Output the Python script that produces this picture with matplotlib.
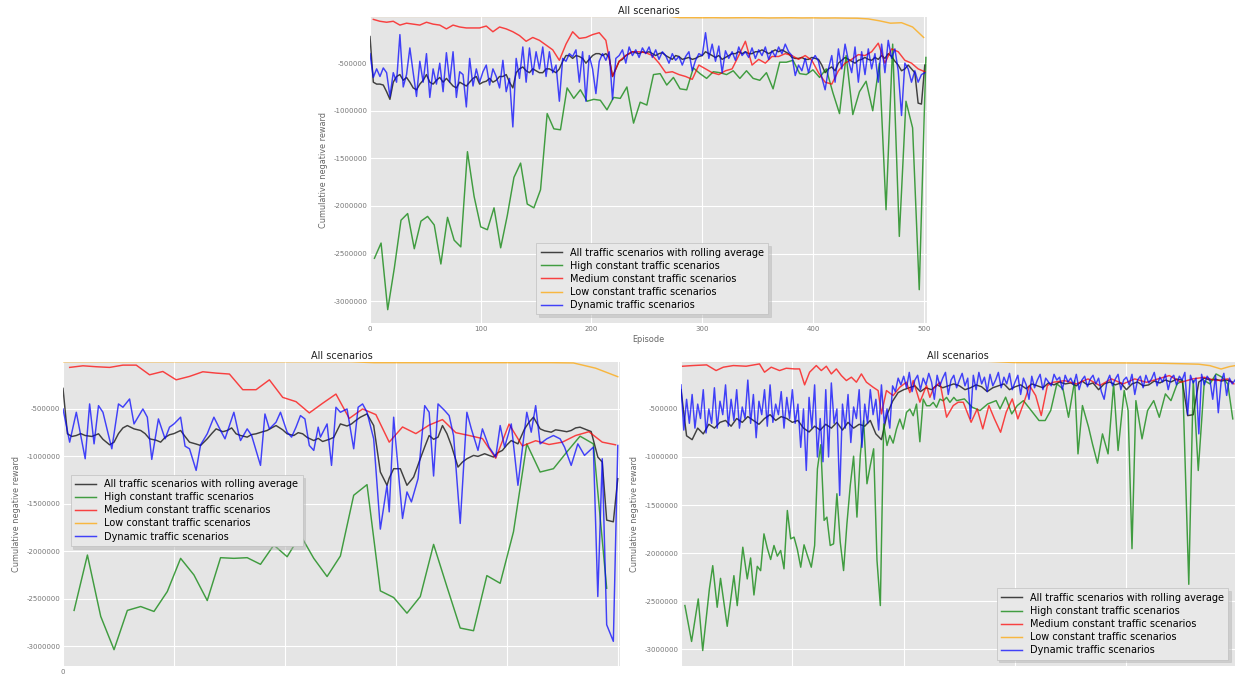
import matplotlib
matplotlib.use("Agg")
import matplotlib.pyplot as plt
import numpy as np

plt.style.use("ggplot")

# all values in thousands of reward units
LABELS = ["All traffic scenarios with rolling average",
          "High constant traffic scenarios",
          "Medium constant traffic scenarios",
          "Low constant traffic scenarios",
          "Dynamic traffic scenarios"]
COLORS = ["black", "green", "red", "orange", "blue"]
Y_TICKS = [-3000000, -2500000, -2000000, -1500000, -1000000, -500000]

# ---------------- top chart (500 episodes) ----------------
top_all = [  # every 3 episodes
    -220, -700, -720, -720, -730, -800, -880, -700, -640, -620, -680, -650, -700, -760, -780, -720, -680,
    -620, -700, -720, -680, -650, -700, -660, -700, -740, -760, -700, -720, -740, -700, -660, -640, -720,
    -700, -690, -660, -700, -680, -640, -640, -620, -700, -760, -600, -560, -540, -580, -600, -560, -580,
    -600, -600, -560, -560, -580, -600, -560, -480, -420, -420, -450, -420, -430, -450, -500, -460, -420,
    -400, -400, -420, -400, -440, -640, -560, -480, -460, -420, -400, -380, -390, -400, -380, -390,
    -380, -400, -420, -400, -390, -420, -440, -460, -420, -430, -460, -450, -440, -460, -450, -430, -420,
    -380, -400, -420, -440, -420, -460, -440, -420, -400, -400, -380, -400, -380, -400, -400, -380,
    -380, -360, -380, -400, -380, -360, -380, -360, -380, -400, -440, -450, -450, -440, -460, -460, -440,
    -450, -460, -520, -600, -560, -540, -580, -500, -470, -440, -460, -480, -500, -470, -460, -440, -460,
    -470, -440, -460, -420, -450, -400, -430, -480, -520, -580, -560, -520, -560, -600, -920, -930, -520]
top_dynamic = [  # every 3 episodes
    -400, -650, -560, -640, -550, -600, -850, -600, -700, -200, -750, -620, -340, -600, -850, -480, -700,
    -400, -860, -560, -720, -500, -800, -390, -700, -380, -860, -590, -620, -960, -450, -740, -560, -700,
    -590, -520, -730, -560, -640, -760, -470, -800, -660, -1170, -450, -660, -330, -700, -340, -620, -380,
    -560, -330, -640, -380, -600, -520, -900, -450, -480, -400, -430, -360, -700, -380, -900, -420, -560,
    -820, -480, -400, -470, -380, -880, -450, -420, -360, -500, -330, -420, -360, -440, -340, -400,
    -330, -440, -360, -460, -380, -420, -500, -400, -470, -430, -520, -430, -380, -580, -470, -400, -420,
    -180, -450, -300, -480, -320, -600, -370, -450, -380, -470, -330, -420, -380, -440, -340, -450,
    -360, -420, -330, -460, -370, -430, -330, -400, -300, -380, -420, -630, -520, -580, -450, -600, -470,
    -420, -480, -650, -780, -560, -420, -700, -350, -560, -300, -470, -600, -330, -700, -380, -620, -350,
    -560, -400, -700, -300, -600, -260, -450, -350, -580, -1050, -500, -560, -700, -580, -700, -620, -600]
top_high = [  # every 6 episodes from episode 4
    -2550, -2390, -3090, -2650, -2150, -2080, -2450, -2160, -2110, -2200,
    -2610, -2120, -2360, -2430, -1430, -1900, -2220, -2250, -2020, -2440,
    -2100, -1700, -1550, -1980, -2020, -1830, -1030, -1190, -1200, -760,
    -870, -780, -900, -880, -890, -990, -860, -870, -750, -1130,
    -910, -940, -620, -610, -730, -650, -770, -780, -550, -610,
    -660, -590, -600, -620, -580, -660, -580, -660, -680, -600,
    -770, -490, -490, -470, -610, -620,
    -570, -650, -560, -810, -1030, -420, -1040, -800, -690, -1000,
    -500, -2040, -300, -2320, -900, -1180, -2880, -440]
top_medium = [  # every 6 episodes from episode 3
    -40, -60, -70, -60, -100, -80, -90, -100, -70, -90,
    -100, -140, -100, -120, -130, -130, -130, -110, -170, -120,
    -140, -170, -210, -270, -230, -260, -310, -360, -470, -300,
    -170, -240, -230, -200, -180, -260, -640, -480, -420, -380,
    -380, -390, -420, -500, -600, -590, -620, -640, -670, -520,
    -560, -600, -620, -580, -560, -420, -270, -520, -460, -500,
    -430, -430, -400, -420, -460, -420, -470,
    -600, -700, -720, -580, -500, -460, -410, -420, -380, -290,
    -500, -350, -380, -470, -500, -560, -590]
top_low = [  # every 10 episodes
    -8, -8, -8, -8, -8, -8, -8, -8, -8, -8, -8, -8, -8, -8,
    -8, -8, -8, -8, -8, -8, -8, -8, -8, -8, -8, -8, -8, -8,
    -22, -22, -23, -22, -24, -23, -22, -23, -25, -24, -23, -25, -24, -26, -25, -27, -28,
    -35, -55, -80, -75, -120, -230]

# ---------------- bottom-left chart (250 episodes) ----------------
bl_all = [(0, -283), (2, -762), (4, -790), (6, -780), (8, -760), (10, -780), (13, -790), (16, -762),
          (18, -820), (21, -878), (23, -850), (25, -760), (27, -700), (29, -675), (32, -710), (35, -727),
          (37, -760), (39, -815), (42, -830), (44, -850), (46, -800), (48, -772), (50, -760), (53, -727),
          (55, -790), (57, -850), (60, -870), (62, -885), (65, -815), (67, -760), (69, -710), (72, -740),
          (74, -727), (76, -700), (78, -762), (80, -780), (83, -797), (85, -770), (87, -762), (90, -740),
          (92, -727), (94, -700), (96, -675), (99, -720), (101, -762), (104, -780), (106, -750), (108, -762),
          (110, -800), (113, -833), (115, -810), (117, -843), (120, -820), (122, -800), (125, -658),
          (128, -680), (130, -658), (132, -620), (134, -587), (137, -552), (140, -675), (143, -1165),
          (146, -1305), (147, -1230), (149, -1130), (152, -1130), (155, -1305), (158, -1218), (161, -1025),
          (163, -900), (165, -780), (167, -820), (169, -797), (171, -675), (173, -760), (175, -885),
          (178, -1113), (180, -1060), (182, -1025), (185, -990), (187, -1000), (190, -972), (192, -990),
          (194, -1007), (196, -960), (198, -937), (200, -880), (202, -833), (205, -868), (208, -710),
          (210, -640), (212, -587), (215, -710), (217, -730), (220, -745), (222, -720), (224, -727),
          (227, -740), (229, -727), (231, -700), (233, -692), (236, -720), (238, -738), (241, -1007),
          (243, -1060), (245, -1672), (248, -1690), (250, -1235)]
bl_dynamic = [(0, -500), (3, -850), (6, -535), (10, -1025), (12, -447), (14, -868), (16, -465), (18, -535),
              (22, -920), (25, -447), (27, -482), (30, -395), (32, -658), (36, -500), (38, -587), (40, -1032),
              (43, -605), (46, -815), (48, -692), (50, -658), (53, -587), (55, -892), (57, -920), (60, -1148),
              (62, -878), (65, -762), (68, -587), (71, -727), (73, -815), (77, -535), (79, -745), (80, -833),
              (83, -710), (85, -780), (89, -1095), (91, -553), (93, -710), (96, -640), (98, -535), (101, -745),
              (103, -797), (105, -692), (107, -570), (109, -605), (111, -885), (113, -937), (115, -692),
              (116, -797), (119, -658), (121, -1095), (123, -482), (125, -535), (128, -500), (131, -920),
              (133, -482), (135, -447), (137, -535), (140, -815), (143, -1767), (146, -1305), (147, -1585),
              (149, -587), (151, -1130), (153, -1655), (155, -1375), (157, -1480), (160, -1235), (163, -465),
              (165, -535), (167, -1207), (169, -447), (172, -517), (174, -570), (176, -780), (179, -1707),
              (182, -535), (184, -710), (187, -937), (189, -710), (192, -902), (195, -1007), (197, -675),
              (199, -902), (202, -658), (205, -1305), (209, -535), (211, -745), (213, -465), (215, -868),
              (218, -815), (221, -780), (224, -815), (226, -902), (229, -1095), (232, -868), (235, -990),
              (239, -902), (241, -2478), (243, -1025), (245, -2775), (248, -2950), (250, -885)]
bl_high = [  # every 6 episodes from episode 5
    -2624, -2040, -2687, -3038, -2624, -2583, -2635, -2425, -2075, -2250,
    -2520, -2068, -2075, -2068, -2138, -1935, -2058, -1830, -2075, -2267,
    -2050, -1410, -1298, -2418, -2488, -2653, -2478, -1928, -2373, -2810,
    -2838, -2257, -2338, -1795, -868, -1165, -1130, -955, -787, -868, -2390]
bl_medium = [  # every 6 episodes from episode 3
    -62, -45, -55, -62, -38, -38, -140, -105, -193, -157,
    -108, -122, -132, -297, -297, -193, -378, -423, -542, -440,
    -343, -600, -500, -560, -850, -690, -760, -670, -612, -750,
    -780, -812, -1020, -660, -890, -835, -875, -850, -780, -740, -850, -878]
bl_low = [  # every 10 episodes
    -2, -2, -2, -2, -2, -2, -2, -2, -2, -2, -2, -2, -2, -2,
    -12, -12, -12, -12, -12, -12, -12, -12, -12, -15, -70, -160]

# ---------------- bottom-right chart (1000 episodes) ----------------
br_all = [  # every 10 episodes
    -300, -780, -820, -700, -760, -660, -700, -640, -620, -680,
    -600, -640, -580, -620, -660, -600, -560, -620, -580, -600,
    -640, -620, -700, -740, -680, -720, -660, -700, -640, -720,
    -640, -700, -660, -680, -620, -760, -820, -560, -420, -330,
    -300, -280, -260, -320, -280, -300, -250, -280, -260, -240,
    -260, -300, -280, -250, -270, -320, -280, -260, -240, -300,
    -270, -250, -290, -240, -260, -280, -230, -250, -220, -240,
    -230, -260, -210, -250, -230, -300, -240, -220, -250, -230,
    -300, -240, -220, -260, -250, -210, -230, -200, -220, -190,
    -200, -570, -560, -220, -180, -200, -190, -210, -200, -220]
br_dynamic = [  # every 5 episodes
    -250, -720, -400, -650, -350, -700, -450, -600, -300, -750, -500, -650, -280, -700, -420, -560, -250, -680, -400, -620,
    -300, -700, -480, -600, -200, -650, -350, -800, -420, -560, -300, -680, -250, -640, -450, -560, -320, -700, -380, -600,
    -300, -650, -450, -900, -500, -1140, -380, -700, -250, -1000, -600, -1050, -300, -1000, -230, -650, -500, -1400, -450, -700,
    -350, -850, -480, -600, -300, -900, -450, -650, -300, -560, -400, -720, -250, -650, -500, -700, -260, -320, -180, -250,
    -160, -280, -120, -320, -200, -150, -300, -180, -250, -130, -220, -400, -150, -260, -180, -120, -350, -200, -150, -280,
    -200, -130, -260, -180, -600, -150, -300, -120, -240, -170, -320, -140, -260, -200, -120, -280, -170, -240, -130, -300,
    -220, -150, -350, -180, -250, -400, -160, -280, -200, -140, -300, -180, -220, -260, -140, -200, -170, -300, -150, -220,
    -180, -250, -140, -300, -200, -160, -270, -190, -150, -240, -180, -320, -400, -220, -150, -260, -190, -140, -300, -200,
    -170, -250, -140, -350, -200, -160, -280, -150, -230, -190, -120, -260, -170, -220, -140, -300, -180, -150, -250, -160,
    -200, -120, -560, -150, -230, -180, -760, -140, -250, -160, -200, -400, -150, -540, -220, -130, -360, -180, -240, -200]
br_high = [(7, -2546), (19, -2920), (31, -2477), (39, -3014), (51, -2373), (57, -2131), (65, -2564), (71, -2263),
           (83, -2762), (95, -2235), (101, -2547), (111, -1939), (119, -2269), (125, -2051), (131, -2436),
           (137, -2138), (143, -2183), (149, -1800), (155, -1949), (161, -2067), (167, -1921), (173, -2032),
           (179, -1973), (185, -2164), (191, -1557), (197, -1852), (203, -1834), (209, -1963), (215, -2147),
           (221, -1914), (227, -2025), (234, -2147), (240, -1921), (245, -1124), (251, -873), (257, -1660),
           (262, -1626), (268, -1921), (274, -1904), (280, -1383), (286, -1886), (292, -2182), (298, -1695),
           (304, -1297), (310, -992), (316, -1626), (322, -985), (328, -622), (334, -1279), (340, -1088),
           (346, -915), (352, -2076), (358, -2546), (364, -656), (370, -881), (375, -777), (381, -856),
           (387, -710), (393, -606), (399, -710), (405, -536), (411, -502), (417, -571), (423, -450),
           (429, -842), (435, -398), (441, -467), (447, -467), (453, -432), (459, -484), (465, -398),
           (471, -416), (477, -380), (483, -432), (490, -380), (495, -414), (509, -396), (523, -483),
           (537, -517), (551, -448), (566, -414), (573, -500), (583, -378), (594, -552), (604, -465),
           (615, -414), (629, -517), (643, -621), (654, -621), (664, -517), (675, -240), (686, -292),
           (696, -587), (707, -206), (713, -968), (721, -465), (732, -690), (739, -864), (748, -1065),
           (757, -760), (767, -968), (777, -240), (785, -933), (796, -309), (803, -517), (810, -1954),
           (817, -414), (828, -812), (838, -517), (849, -414), (859, -587), (870, -344), (880, -414),
           (891, -240), (901, -206), (912, -2325), (920, -206), (929, -1141), (940, -206), (950, -240),
           (961, -136), (972, -171), (982, -240), (991, -604)]
br_medium = [(3, -56), (21, -49), (46, -42), (63, -101), (76, -66), (94, -49), (117, -56), (141, -32),
             (150, -118), (162, -66), (177, -101), (189, -77), (204, -84), (213, -84), (222, -250), (231, -118),
             (243, -49), (252, -101), (261, -56), (270, -136), (279, -84), (288, -153), (297, -205), (306, -170),
             (315, -222), (324, -136), (333, -222), (345, -274), (354, -309), (360, -552), (369, -309),
             (381, -361), (393, -274), (405, -222), (411, -330), (417, -205), (429, -430), (441, -257),
             (447, -380), (453, -292), (465, -222), (477, -586), (489, -465), (498, -430), (507, -431),
             (521, -639), (532, -500), (542, -708), (553, -465), (563, -604), (574, -743), (584, -535),
             (595, -396), (605, -604), (616, -431), (626, -257), (637, -361), (647, -569), (658, -257),
             (668, -223), (689, -206), (710, -240), (731, -188), (752, -257), (773, -188), (794, -240),
             (815, -188), (836, -223), (857, -188), (877, -153), (898, -223), (919, -188), (940, -171),
             (961, -206), (982, -188), (993, -240)]
br_low = [(0, -5), (550, -5), (600, -18), (700, -20), (800, -22), (860, -25), (900, -30), (930, -35),
          (950, -50), (970, -85), (985, -60), (995, -50)]


def regular(values, start, step):
    x = start + step * np.arange(len(values))
    return x, np.array(values) * 1000


def pairs(points):
    x, y = zip(*points)
    return np.array(x), np.array(y) * 1000


def style_axes(ax, ylim, xlim, xticks, xticklabels):
    ax.set_facecolor("#E5E5E5")
    ax.grid(True, color="white", linewidth=0.8)
    ax.set_xlim(*xlim)
    ax.set_ylim(ylim[0] * 1000, ylim[1] * 1000)
    ax.set_yticks(Y_TICKS)
    ax.set_yticklabels([str(t) for t in Y_TICKS])
    ax.set_xticks(xticks)
    ax.set_xticklabels(xticklabels)
    ax.tick_params(length=0, pad=2, labelsize=5, colors="#777777")
    ax.set_title("All scenarios", fontsize=7, color="#222222", pad=2.5)
    ax.set_ylabel("Cumulative negative reward", fontsize=5.9, color="#666666", labelpad=4)
    for s in ax.spines.values():
        s.set_visible(False)


def draw(ax, series):
    for (x, y), color, label in zip(series, COLORS, LABELS):
        ax.plot(x, y, color=color, lw=1.05, alpha=0.72, label=label)


def add_legend(ax, **kw):
    ax.legend(fontsize=7.0, frameon=True, shadow={"color": "#b0b0b0", "alpha": 0.45},
              fancybox=False, facecolor="#E8E8E8", edgecolor="#C0C0C0",
              framealpha=1.0, borderpad=0.45, labelspacing=0.32, handlelength=2.2, **kw)


fig = plt.figure(figsize=(12.35, 6.74), dpi=100)
fig.patch.set_facecolor("white")

# top
ax_top = fig.add_axes([370 / 1235, 351 / 674, 557 / 1235, 306 / 674])
draw(ax_top, [regular(top_all, 0, 3), regular(top_high, 4, 6), regular(top_medium, 3, 6),
              regular(top_low, 0, 10), regular(top_dynamic, 0, 3)])
style_axes(ax_top, (-3230, -15), (0, 503), [0, 100, 200, 300, 400, 500],
           ["0", "100", "200", "300", "400", "500"])
ax_top.set_xlabel("Episode", fontsize=5.9, color="#666666", labelpad=2)
add_legend(ax_top, loc="lower left", bbox_to_anchor=(0.29, 0.012))

# bottom left
ax_bl = fig.add_axes([63 / 1235, 8 / 674, 557 / 1235, 304 / 674])
draw(ax_bl, [pairs(bl_all), regular(bl_high, 5, 6), regular(bl_medium, 3, 6),
             regular(bl_low, 0, 10), pairs(bl_dynamic)])
style_axes(ax_bl, (-3210, -5), (0, 251), [0, 50, 100, 150, 200, 250],
           ["0", "", "", "", "", ""])
add_legend(ax_bl, loc="upper left", bbox_to_anchor=(0.005, 0.645))

# bottom right
ax_br = fig.add_axes([681 / 1235, 8 / 674, 554 / 1235, 304 / 674])
draw(ax_br, [regular(br_all, 0, 10), pairs(br_high), pairs(br_medium),
             pairs(br_low), regular(br_dynamic, 0, 5)])
style_axes(ax_br, (-3175, -12), (0, 995), [0, 200, 400, 600, 800],
           ["", "", "", "", ""])
add_legend(ax_br, loc="lower right", bbox_to_anchor=(0.997, 0.005))

fig.savefig("out.png", dpi=100)
